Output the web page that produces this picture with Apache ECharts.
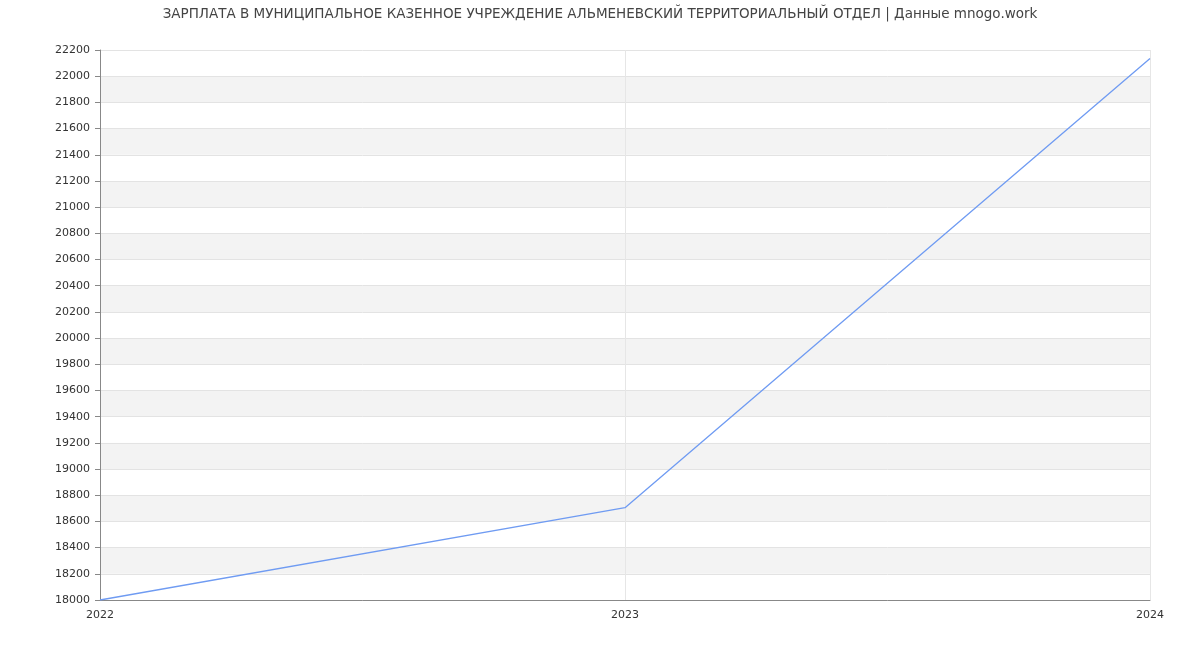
<!DOCTYPE html>
<html><head><meta charset="utf-8">
<script src="https://cdn.jsdelivr.net/npm/echarts@6/dist/echarts.min.js"></script>
<style>html,body{margin:0;padding:0;background:#fff}#c{width:1200px;height:650px}</style>
</head><body><div id="c"></div>
<script>
const titleText = 'ЗАРПЛАТА В МУНИЦИПАЛЬНОЕ КАЗЕННОЕ УЧРЕЖДЕНИЕ АЛЬМЕНЕВСКИЙ ТЕРРИТОРИАЛЬНЫЙ ОТДЕЛ | Данные mnogo.work';
const years = ['2022', '2023', '2024'];
const salary = [18000, 18705, 22135];

const chart = echarts.init(document.getElementById('c'));
chart.setOption({
  animation: false,
  textStyle: {fontFamily: 'DejaVu Sans'},
  title: {text: titleText, left: 'center', top: 2,
    textStyle: {fontSize: 13.5, fontWeight: 'normal', color: '#444', fontFamily: 'DejaVu Sans'}},
  grid: {left: 100, right: 50, top: 50, bottom: 50},
  xAxis: {type: 'category', data: years, boundaryGap: false,
    axisLine: {lineStyle: {color: '#888'}},
    axisTick: {show: false},
    axisLabel: {color: '#333', fontSize: 11, margin: 10},
    splitLine: {show: true, lineStyle: {color: '#e6e6e6'}}},
  yAxis: {type: 'value', min: 18000, max: 22200, interval: 200,
    axisLine: {show: true, lineStyle: {color: '#888'}},
    axisTick: {show: true, length: 5, lineStyle: {color: '#888'}},
    axisLabel: {color: '#333', fontSize: 11, margin: 10, formatter: v => String(v)},
    splitLine: {show: true, lineStyle: {color: '#e3e3e3'}},
    splitArea: {show: true, areaStyle: {color: ['#ffffff', '#f3f3f3']}}},
  series: [{type: 'line', data: salary, symbol: 'none',
    lineStyle: {color: '#6f9bf2', width: 1.3}}]
});
</script></body></html>
